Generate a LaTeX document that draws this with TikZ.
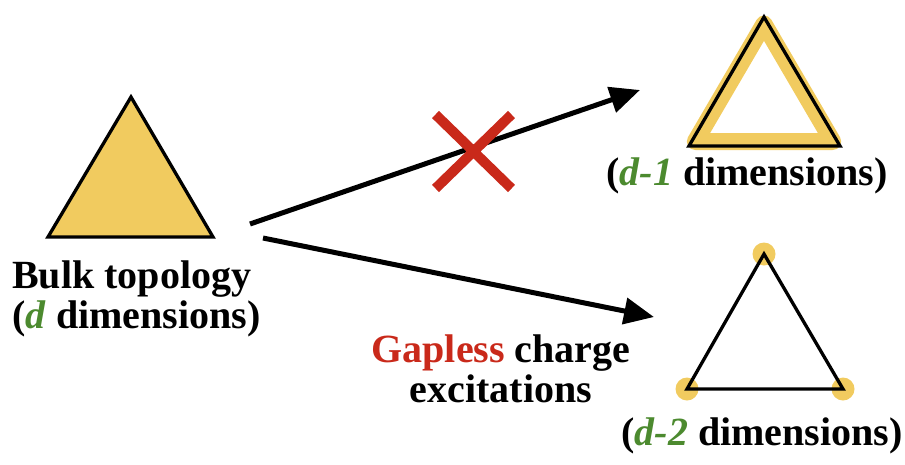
\documentclass[tikz,border=0pt]{standalone}
\usepackage{fontspec}
\setmainfont{Liberation Serif}
\usepackage{tikz}
\usetikzlibrary{arrows.meta,positioning}
\definecolor{bulkyellow}{HTML}{F1CB5F}
\definecolor{dimgreen}{HTML}{4C8A2F}
\definecolor{gapred}{HTML}{C9291A}
\newcommand{\dimvar}[1]{\textcolor{dimgreen}{\textit{#1}}}

\begin{document}
\begin{tikzpicture}[x=1pt,y=-1pt,
  tri/.style={draw,line width=3.3pt,line join=miter},
  lbl/.style={font=\bfseries\fontsize{40}{40}\selectfont,inner sep=0pt},
  flow/.style={line width=5pt,-{Triangle[length=30pt,width=26pt]}}]
  \useasboundingbox (0,0) rectangle (905,464);
  % bulk triangle
  \draw[tri,fill=bulkyellow] (131,97) coordinate (b1) -- (213,237) coordinate (b2)
    -- (48,237) coordinate (b3) -- cycle;
  \node[lbl,anchor=base west,align=left] (bulk) at (12,328)
    {Bulk topology\\(\dimvar{d} dimensions)};
  % edge triangle (d-1)
  \draw[line width=17pt,draw=bulkyellow,line join=round]
    (764,24) -- (832.7,141.5) -- (695.3,141.5) -- cycle;
  \draw[tri] (764,17) coordinate (e1) -- (840,146) coordinate (e2)
    -- (689,146) coordinate (e3) -- cycle;
  \node[lbl,anchor=base] (edge) at (747,185) {(\dimvar{d-1} dimensions)};
  % corner triangle (d-2)
  \foreach \p in {(764,254),(843,389),(687,389)}
    \fill[bulkyellow] \p circle (11.5pt);
  \draw[tri] (764,254) coordinate (c1) -- (843,389) coordinate (c2)
    -- (687,389) coordinate (c3) -- cycle;
  \node[lbl,anchor=base] (corner) at (762,445) {(\dimvar{d-2} dimensions)};
  % arrows
  \coordinate (up0) at (250,224);
  \coordinate (up1) at (640,90);
  \coordinate (dn0) at (263,238);
  \coordinate (dn1) at (654,317);
  \draw[flow] (up0) -- (up1);
  \draw[flow] (dn0) -- (dn1);
  \node[lbl,anchor=base,align=center] (gapless) at (501,402)
    {\textcolor{gapred}{Gapless} charge\\excitations};
  % forbidden
  \coordinate (cross) at (473.5,151.5);
  \draw[gapred,line width=10pt] ([shift={(-38,-37)}]cross) -- ([shift={(38,37)}]cross)
    ([shift={(-38,37)}]cross) -- ([shift={(38,-37)}]cross);
\end{tikzpicture}
\end{document}
